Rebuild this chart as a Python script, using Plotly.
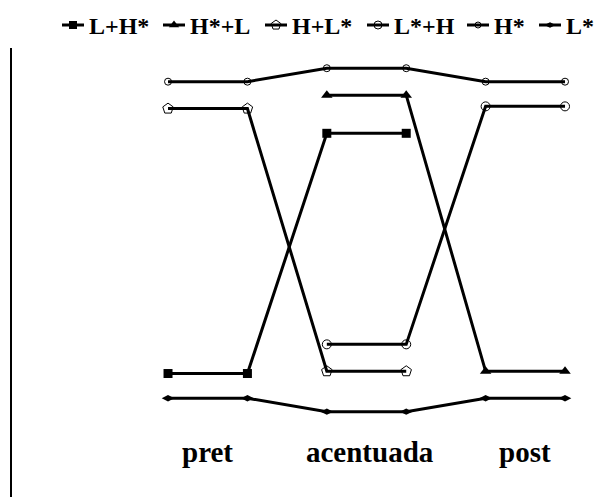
import plotly.graph_objects as go

# six positions: two per segment
x_pos = [0, 1, 2, 3, 4, 5]
segments = ["pret", "acentuada", "post"]
segment_centers = [0.5, 2.55, 4.5]

series_names = ["L+H*", "H*+L", "H+L*", "L*+H", "H*", "L*"]
lh = [27.5, 27.5, 81, 81, None, None]
hl = [None, None, 89.5, 89.5, 28, 28]
h_l = [86.5, 86.5, 28, 28, None, None]
l_h = [None, None, 34, 34, 87, 87]
h_star = [92.5, 92.5, 95.5, 95.5, 92.5, 92.5]
l_star = [22, 22, 19, 19, 22, 22]

series_values = [lh, hl, h_l, l_h, h_star, l_star]

W, H = 613, 497
OFF = 8  # page body margin, figure is drawn 8px right/down
FONT = "Liberation Serif, Times New Roman, serif"

markers = [
    dict(symbol="square", size=9),
    dict(symbol="triangle-up", size=10),
    dict(symbol="pentagon-open", size=11, line=dict(width=1)),
    dict(symbol="circle-open", size=9, line=dict(width=1)),
    dict(symbol="circle-open", size=7, line=dict(width=1)),
    dict(symbol="diamond-wide", size=9),
]

fig = go.Figure()

for name, vals, mk in zip(series_names, series_values, markers):
    fig.add_trace(go.Scatter(
        x=x_pos, y=vals, name=name, mode="lines+markers",
        line=dict(color="black", width=3),
        marker=dict(color="black", **mk),
        connectgaps=False, showlegend=False, cliponaxis=False,
    ))

# hand-built legend row on an overlay axis (screen pixel units)
legend_x = [62, 163, 265, 367, 467, 539]
legend_y = 25
for name, mk, lx in zip(series_names, markers, legend_x):
    fig.add_trace(go.Scatter(
        x=[lx, lx + 22], y=[legend_y, legend_y], mode="lines",
        line=dict(color="black", width=3), xaxis="x2", yaxis="y2",
        showlegend=False, hoverinfo="skip",
    ))
    mk_small = dict(mk)
    mk_small["size"] = mk["size"] - 1
    fig.add_trace(go.Scatter(
        x=[lx + 11], y=[legend_y], mode="markers",
        marker=dict(color="black", **mk_small), xaxis="x2", yaxis="y2",
        showlegend=False, hoverinfo="skip", cliponaxis=False,
    ))
    fig.add_annotation(
        x=lx + 25, y=legend_y + 1, xref="x2", yref="y2", text=f"<b>{name}</b>",
        showarrow=False, xanchor="left", yanchor="middle",
        font=dict(family=FONT, size=24, color="black"),
    )

for lab, cx in zip(segments, segment_centers):
    fig.add_annotation(
        x=cx, y=(H - (452 - OFF)) / H, xref="x", yref="paper", text=f"<b>{lab}</b>",
        showarrow=False, xanchor="center", yanchor="middle",
        font=dict(family=FONT, size=29, color="black"),
    )

top_px = 48 - OFF
top = (H - top_px) / H
fig.update_layout(
    width=W, height=H,
    margin=dict(l=0, r=0, t=0, b=0),
    paper_bgcolor="white", plot_bgcolor="white",
    showlegend=False,
    xaxis=dict(domain=[(12 - OFF) / W, 1], range=[-1.965, 5.705], showgrid=False,
               zeroline=False, showticklabels=False, ticks="", showline=False),
    yaxis=dict(domain=[0, top], range=[-1.78, 100], showgrid=False, zeroline=False,
               showticklabels=False, ticks="", showline=True, linecolor="black",
               linewidth=2),
    xaxis2=dict(domain=[0, 1], range=[OFF, W + OFF], anchor="y2", visible=False),
    yaxis2=dict(domain=[top, 1], range=[48, OFF], anchor="x2", visible=False),
)

fig.write_html("out.html")
